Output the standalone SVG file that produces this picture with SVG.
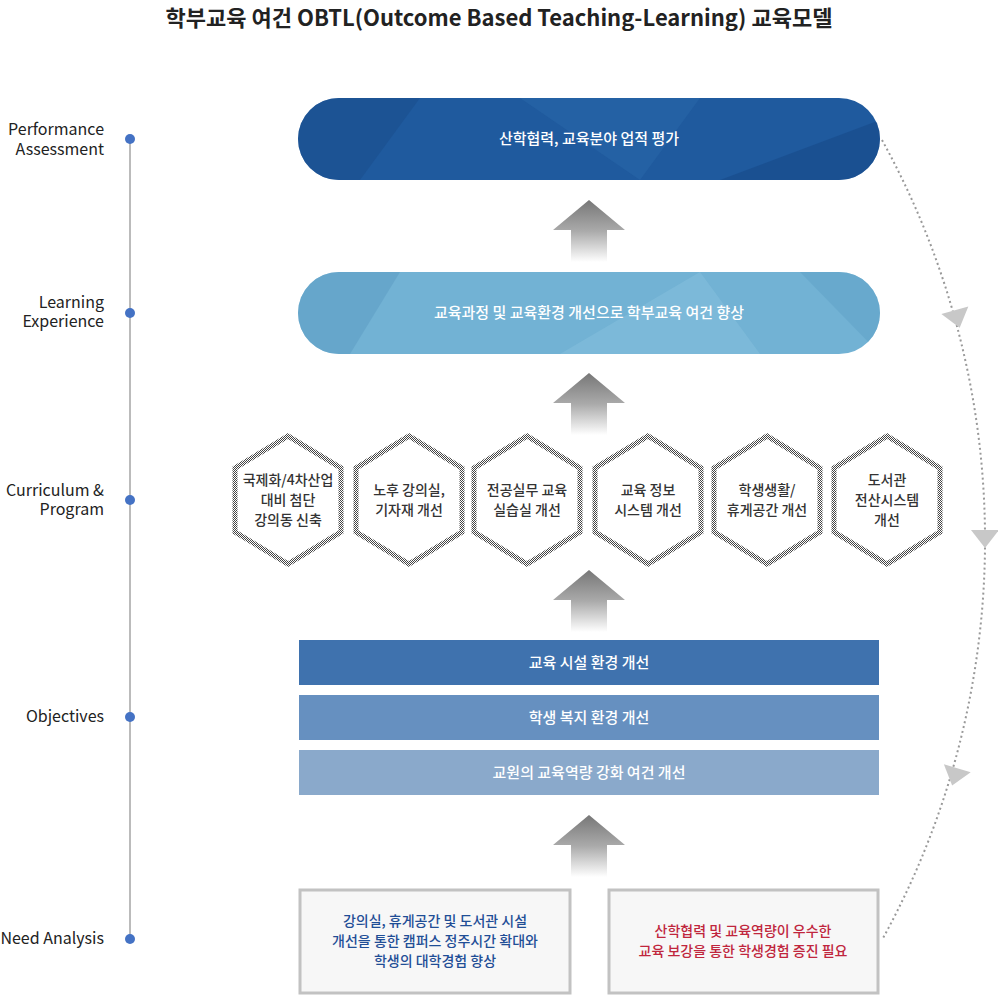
<svg xmlns="http://www.w3.org/2000/svg" width="998" height="995" viewBox="0 0 998 995">
<style>
text{font-family:"Noto Sans CJK KR","Noto Sans",sans-serif;}
.lbl{font-size:16px;fill:#222;text-anchor:end;}
.w{font-size:15px;fill:#fff;text-anchor:middle;font-weight:500;}
.hx{font-size:14px;fill:#333;text-anchor:middle;font-weight:500;}
.hex{fill:#fff;stroke:url(#chk);stroke-width:5;}
.box{fill:#f7f7f7;stroke:#c2c2c2;stroke-width:3;}
.ah{fill:#c8c8c8;}
</style>
<defs>
<pattern id="chk" width="2" height="2" patternUnits="userSpaceOnUse"><rect width="1" height="1" fill="#444"/><rect x="1" y="1" width="1" height="1" fill="#444"/></pattern>
<linearGradient id="ag" x1="0" y1="0" x2="0" y2="1"><stop offset="0" stop-color="#777"/><stop offset="0.5" stop-color="#aaa"/><stop offset="1" stop-color="#fff"/></linearGradient>
<g id="arrow"><polygon points="0,0 36,30 18,30 18,62 -18,62 -18,30 -36,30" fill="url(#ag)"/></g>
<clipPath id="p1"><rect x="298" y="98" width="582" height="82" rx="41"/></clipPath>
<clipPath id="p2"><rect x="298" y="272" width="582" height="82" rx="41"/></clipPath>
</defs>
<rect width="998" height="995" fill="#fff"/>
<text x="499" y="26" font-size="22" font-weight="700" fill="#222" text-anchor="middle">학부교육 여건 OBTL(Outcome Based Teaching-Learning) 교육모델</text>

<g id="timeline">
<line x1="130" y1="138" x2="130" y2="940" stroke="#bbb" stroke-width="2"/>
<g fill="#4472c4"><circle cx="130" cy="139" r="5"/><circle cx="130" cy="313" r="5"/><circle cx="130" cy="500" r="5"/><circle cx="130" cy="717" r="5"/><circle cx="130" cy="939" r="5"/></g>
<text class="lbl" x="104" y="135">Performance</text><text class="lbl" x="104" y="155">Assessment</text>
<text class="lbl" x="104" y="308">Learning</text><text class="lbl" x="104" y="327">Experience</text>
<text class="lbl" x="104" y="496">Curriculum &amp;</text><text class="lbl" x="104" y="515">Program</text>
<text class="lbl" x="104" y="722">Objectives</text>
<text class="lbl" x="104" y="944">Need Analysis</text>
</g>

<g id="n-perf">
<rect x="298" y="98" width="582" height="82" rx="41" fill="#1f5a9e"/>
<g clip-path="url(#p1)"><polygon points="298,98 420,98 360,180 298,180" fill="#1a4f8e" opacity="0.6"/><polygon points="520,98 700,98 640,180" fill="#2a67aa" opacity="0.5"/><polygon points="720,180 880,120 880,180" fill="#174a88" opacity="0.6"/></g>
<text class="w" x="589" y="144">산학협력, 교육분야 업적 평가</text>
</g>
<g id="n-learn">
<rect x="298" y="272" width="582" height="82" rx="41" fill="#72b2d4"/>
<g clip-path="url(#p2)"><polygon points="298,272 400,272 350,354 298,354" fill="#5f9fc4" opacity="0.6"/><polygon points="560,354 700,272 760,354" fill="#84bedc" opacity="0.6"/><polygon points="800,272 880,272 880,354" fill="#62a3c8" opacity="0.6"/></g>
<text class="w" x="589" y="318" font-size="14">교육과정 및 교육환경 개선으로 학부교육 여건 향상</text>
</g>

<g id="n-h1"><polygon class="hex" points="288,436 341,468 341,532 288,564 235,532 235,468"/><text class="hx" x="288" y="485">국제화/4차산업</text><text class="hx" x="288" y="505">대비 첨단</text><text class="hx" x="288" y="525">강의동 신축</text></g>
<g id="n-h2"><polygon class="hex" points="409,436 462,468 462,532 409,564 356,532 356,468"/><text class="hx" x="409" y="495">노후 강의실,</text><text class="hx" x="409" y="515">기자재 개선</text></g>
<g id="n-h3"><polygon class="hex" points="527,436 580,468 580,532 527,564 474,532 474,468"/><text class="hx" x="527" y="495">전공실무 교육</text><text class="hx" x="527" y="515">실습실 개선</text></g>
<g id="n-h4"><polygon class="hex" points="648,436 701,468 701,532 648,564 595,532 595,468"/><text class="hx" x="648" y="495">교육 정보</text><text class="hx" x="648" y="515">시스템 개선</text></g>
<g id="n-h5"><polygon class="hex" points="767,436 820,468 820,532 767,564 714,532 714,468"/><text class="hx" x="767" y="495">학생생활/</text><text class="hx" x="767" y="515">휴게공간 개선</text></g>
<g id="n-h6"><polygon class="hex" points="887,436 940,468 940,532 887,564 834,532 834,468"/><text class="hx" x="887" y="485">도서관</text><text class="hx" x="887" y="505">전산시스템</text><text class="hx" x="887" y="525">개선</text></g>

<g id="n-obj1"><rect x="299" y="640" width="580" height="45" fill="#3f72ae"/><text class="w" x="589" y="668" font-size="14">교육 시설 환경 개선</text></g>
<g id="n-obj2"><rect x="299" y="695" width="580" height="45" fill="#6690c0"/><text class="w" x="589" y="723" font-size="14">학생 복지 환경 개선</text></g>
<g id="n-obj3"><rect x="299" y="750" width="580" height="45" fill="#8aa9cb"/><text class="w" x="589" y="778" font-size="14">교원의 교육역량 강화 여건 개선</text></g>

<g id="n-need1"><rect class="box" x="300" y="890" width="270" height="103"/>
<text x="435" y="926" font-size="14" fill="#1f4e96" text-anchor="middle" font-weight="500">강의실, 휴게공간 및 도서관 시설</text>
<text x="435" y="946" font-size="14" fill="#1f4e96" text-anchor="middle" font-weight="500">개선을 통한 캠퍼스 정주시간 확대와</text>
<text x="435" y="966" font-size="14" fill="#1f4e96" text-anchor="middle" font-weight="500">학생의 대학경험 향상</text></g>
<g id="n-need2"><rect class="box" x="609" y="890" width="269" height="103"/>
<text x="743" y="936" font-size="14" fill="#c0263d" text-anchor="middle" font-weight="500">산학협력 및 교육역량이 우수한</text>
<text x="743" y="956" font-size="14" fill="#c0263d" text-anchor="middle" font-weight="500">교육 보강을 통한 학생경험 증진 필요</text></g>

<g id="connectors">
<use href="#arrow" x="589" y="200"/>
<use href="#arrow" x="589" y="373"/>
<use href="#arrow" x="589" y="570"/>
<use href="#arrow" x="589" y="815"/>
<path d="M882,140 A828,828 0 0 1 882,940" fill="none" stroke="#999" stroke-width="2" stroke-dasharray="2 3"/>
<polygon class="ah" points="-8,-14 10,0 -8,14" transform="translate(957,318) rotate(74.4)"/>
<polygon class="ah" points="-8,-14 10,0 -8,14" transform="translate(985,538) rotate(90)"/>
<polygon class="ah" points="-8,-14 10,0 -8,14" transform="translate(955,776) rotate(106.6)"/>
</g>
</svg>
